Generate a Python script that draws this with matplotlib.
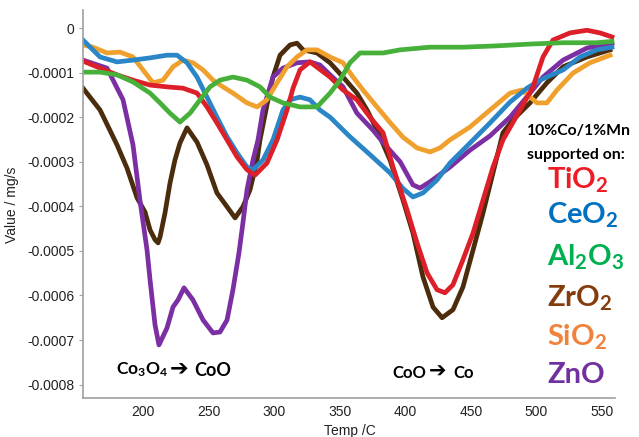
import matplotlib
matplotlib.use("Agg")
import matplotlib.pyplot as plt

plt.rcParams['font.family'] = ['Liberation Sans', 'DejaVu Sans']
plt.rcParams['axes.unicode_minus'] = False
plt.rcParams['mathtext.fontset'] = 'custom'
plt.rcParams['mathtext.rm'] = 'Lato:bold'
plt.rcParams['mathtext.bf'] = 'Lato:bold'
plt.rcParams['mathtext.default'] = 'bf'

# ---- data (Temp in C, value in 1e-4 mg/s) ----
znO_t = [154.3, 172.6, 184.8, 192.4, 197.7, 203.1, 205.4, 209.2, 212.2, 218.3, 222.9, 226.7,
         231.3, 238.1, 245.8, 253.4, 258.7, 264.1, 268.6, 273.2, 276.2, 279.3, 283.9, 287.7,
         291.5, 299.1, 306.7, 317.4, 327.3, 334.9, 342.6, 352.5, 363.1, 375.3, 384.5, 396.0,
         405.8, 411.2, 418.8, 434.0, 449.3, 464.5, 479.8, 495.0, 504.9, 520.2, 538.4, 557.5]
znO_v = [-0.72, -0.90, -1.61, -2.62, -3.86, -4.98, -5.65, -6.66, -7.11, -6.73, -6.26, -6.10,
         -5.83, -6.10, -6.55, -6.84, -6.82, -6.55, -5.87, -5.04, -4.37, -3.63, -2.96, -2.51,
         -1.84, -1.10, -0.90, -0.78, -0.76, -0.83, -1.05, -1.32, -1.91, -2.29, -2.62, -3.00,
         -3.52, -3.59, -3.45, -3.12, -2.74, -2.42, -2.00, -1.46, -1.10, -0.72, -0.45, -0.34]

zrO_t = [154.3, 167.3, 180.2, 187.8, 195.5, 201.6, 205.4, 209.2, 211.5, 213.0, 216.8, 220.6,
         224.4, 228.2, 233.6, 241.2, 248.8, 256.4, 264.1, 270.2, 276.2, 281.6, 287.0, 289.2,
         294.5, 299.1, 304.5, 312.1, 317.4, 322.0, 332.7, 342.6, 352.5, 363.1, 370.8, 378.4,
         388.3, 398.2, 405.8, 413.4, 421.1, 428.0, 436.3, 443.9, 451.6, 459.2, 466.8, 474.4,
         482.0, 495.0, 507.9, 520.2, 538.4, 556.0]
zrO_v = [-1.35, -1.84, -2.62, -3.14, -3.81, -4.13, -4.53, -4.75, -4.82, -4.69, -4.15, -3.48,
         -2.96, -2.58, -2.24, -2.56, -3.07, -3.70, -4.01, -4.26, -4.01, -3.63, -2.96, -2.51,
         -1.73, -1.10, -0.61, -0.38, -0.34, -0.49, -0.56, -0.78, -1.10, -1.46, -1.84, -2.29,
         -2.96, -3.86, -4.60, -5.58, -6.26, -6.50, -6.32, -5.81, -4.98, -4.15, -3.25, -2.35,
         -2.06, -1.68, -1.23, -0.87, -0.65, -0.49]

tiO_t = [155.8, 167.3, 180.2, 192.4, 205.4, 218.3, 230.5, 241.2, 248.8, 256.4, 264.1, 271.7,
         279.3, 285.4, 294.5, 302.2, 309.8, 314.4, 319.7, 327.3, 342.6, 352.5, 363.1, 373.0,
         383.0, 390.6, 401.3, 408.9, 416.5, 424.1, 430.2, 436.3, 443.9, 451.6, 459.2, 466.8,
         474.4, 487.4, 497.3, 504.9, 512.5, 525.5, 538.4, 548.4, 557.5]
tiO_v = [-0.76, -0.90, -1.05, -1.17, -1.28, -1.32, -1.35, -1.46, -1.77, -2.13, -2.51, -2.89,
         -3.18, -3.30, -3.03, -2.51, -1.84, -1.35, -0.94, -0.76, -1.10, -1.39, -1.61, -2.00,
         -2.35, -3.12, -4.08, -4.82, -5.49, -5.87, -5.94, -5.76, -5.20, -4.60, -3.86, -3.12,
         -2.51, -1.84, -1.32, -0.65, -0.27, -0.11, -0.05, -0.11, -0.20]

ceO_t = [154.3, 167.3, 180.2, 192.4, 205.4, 218.3, 226.0, 233.6, 241.2, 248.8, 256.4, 264.1,
         271.7, 279.3, 283.9, 291.5, 299.1, 306.7, 312.1, 319.7, 327.3, 334.9, 342.6, 350.2,
         357.8, 367.7, 373.0, 388.3, 398.2, 405.8, 413.4, 424.1, 434.0, 449.3, 464.5, 479.8,
         492.7, 502.6, 520.2, 533.1, 546.0, 557.5]
ceO_v = [-0.27, -0.65, -0.76, -0.72, -0.67, -0.61, -0.61, -0.78, -1.10, -1.55, -2.00, -2.44,
         -2.80, -3.12, -3.18, -2.96, -2.51, -1.84, -1.61, -1.55, -1.61, -1.84, -2.00, -2.22,
         -2.44, -2.70, -2.84, -3.25, -3.60, -3.79, -3.70, -3.41, -3.03, -2.58, -2.13, -1.66,
         -1.35, -1.17, -0.94, -0.65, -0.49, -0.43]

alO_t = [154.3, 167.3, 180.2, 192.4, 205.4, 213.0, 220.6, 228.2, 235.9, 243.5, 251.1, 258.7,
         268.6, 279.3, 289.2, 296.8, 306.7, 319.7, 332.7, 342.6, 350.2, 357.8, 365.4, 383.0,
         396.0, 418.8, 443.9, 469.9, 495.0, 520.2, 546.0, 557.5]
alO_v = [-0.99, -0.99, -1.05, -1.21, -1.46, -1.68, -1.91, -2.11, -1.91, -1.61, -1.32, -1.17,
         -1.10, -1.17, -1.32, -1.55, -1.68, -1.77, -1.77, -1.46, -1.17, -0.78, -0.56, -0.56,
         -0.49, -0.43, -0.43, -0.40, -0.36, -0.33, -0.33, -0.30]

siO_t = [154.3, 161.9, 172.6, 182.5, 192.4, 200.0, 207.7, 215.3, 222.9, 230.5, 238.1, 245.8,
         253.4, 261.0, 268.6, 279.3, 287.0, 294.5, 302.2, 309.8, 317.4, 325.0, 332.7, 342.6,
         352.5, 360.1, 367.7, 378.4, 388.3, 398.2, 408.9, 418.8, 426.4, 434.0, 449.3, 464.5,
         479.8, 488.9, 500.3, 507.9, 515.6, 527.8, 540.7, 556.0]
siO_v = [-0.38, -0.43, -0.56, -0.54, -0.65, -0.94, -1.23, -1.17, -0.87, -0.72, -0.78, -0.94,
         -1.17, -1.32, -1.46, -1.68, -1.77, -1.61, -1.23, -0.87, -0.65, -0.49, -0.49, -0.65,
         -0.78, -1.10, -1.39, -1.77, -2.12, -2.45, -2.69, -2.78, -2.69, -2.51, -2.22, -1.84,
         -1.46, -1.39, -1.68, -1.68, -1.39, -1.01, -0.78, -0.61]

series = [
    (zrO_t, zrO_v, '#4b2c0c'),
    (znO_t, znO_v, '#7b2fa3'),
    (siO_t, siO_v, '#f0a02c'),
    (ceO_t, ceO_v, '#2a86c6'),
    (tiO_t, tiO_v, '#dc1f28'),
    (alO_t, alO_v, '#46b03a'),
]

y_ticks = [0, -0.0001, -0.0002, -0.0003, -0.0004, -0.0005, -0.0006, -0.0007, -0.0008]
y_labels = ['0', '-0.0001', '-0.0002', '-0.0003', '-0.0004', '-0.0005', '-0.0006', '-0.0007', '-0.0008']
x_ticks = [200, 250, 300, 350, 400, 450, 500, 550]

legend_names = ['TiO$_2$', 'CeO$_2$', 'Al$_2$O$_3$', 'ZrO$_2$', 'SiO$_2$', 'ZnO']
legend_colors = ['#ee1c25', '#0070c0', '#00b050', '#843c0c', '#f0823c', '#7030a0']

W, H = 639, 437
fig = plt.figure(figsize=(W / 100, H / 100), dpi=100)
ax = fig.add_axes([83 / W, 1 - 398 / H, (615 - 83) / W, (398 - 10) / H])

for t, v, c in series:
    ax.plot(t, [x * 1e-4 for x in v], color=c, lw=3.4, solid_joinstyle='round')

ax.set_xlim(154.3, 559.8)
ax.set_ylim(-0.00083, 0.0000404)
ax.set_yticks(y_ticks)
ax.set_yticklabels(y_labels)
ax.set_xticks(x_ticks)
ax.tick_params(axis='y', length=3, color='#a0a0a0', labelsize=10, pad=3, labelcolor='#222222')
ax.tick_params(axis='x', length=0, labelsize=10, pad=5, labelcolor='#222222')
for s in ['top', 'right']:
    ax.spines[s].set_visible(False)
for s in ['left', 'bottom']:
    ax.spines[s].set_color('#a0a0a0')
    ax.spines[s].set_linewidth(1.2)

fig.text(350 / W, 1 - 431 / H, 'Temp /C', ha='center', va='center', fontsize=10, color='#222222')
fig.text(12 / W, 1 - 205 / H, 'Value / mg/s', ha='center', va='center', rotation=90,
         fontsize=10, color='#222222')

ann = dict(family=['Lato', 'DejaVu Sans'], weight='bold', color='black', va='center', ha='left')
arrow = dict(family=['DejaVu Sans'], weight='bold', color='black', va='center', ha='left')
fig.text(116 / W, 1 - 370 / H, 'Co$_3$O$_4$', fontsize=12.5, **ann)
fig.text(170 / W, 1 - 369 / H, '\u2794', fontsize=16, **arrow)
fig.text(194 / W, 1 - 370 / H, 'CoO', fontsize=13, **ann)
fig.text(392 / W, 1 - 373 / H, 'CoO', fontsize=12, **ann)
fig.text(429 / W, 1 - 372 / H, '\u2794', fontsize=15, **arrow)
fig.text(453 / W, 1 - 373 / H, 'Co', fontsize=12, **ann)
fig.text(527 / W, 1 - 131 / H, '10%Co/1%Mn', fontsize=11.3, **ann)
fig.text(527 / W, 1 - 155 / H, 'supported on:', fontsize=11.3, **ann)

ys = [180, 215, 257, 298, 337, 375]
for name, col, yy in zip(legend_names, legend_colors, ys):
    fig.text(547 / W, 1 - yy / H, name, fontsize=21, family='Lato', weight='bold',
             color=col, va='center', ha='left')

fig.savefig('out.png', dpi=100)
